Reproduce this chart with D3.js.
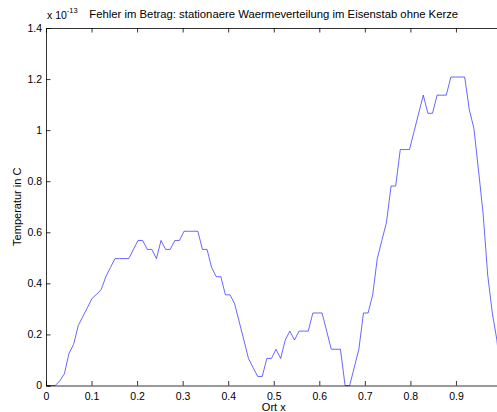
<!DOCTYPE html>
<html><head><meta charset="utf-8">
<script src="https://cdn.jsdelivr.net/npm/d3@7"></script>
<style>
html,body{margin:0;padding:0;background:#fff;overflow:hidden;}
svg{display:block;font-family:"Liberation Sans",Arial,Helvetica,sans-serif;}
</style></head>
<body>
<script>
// Fehler (absolute error) in units of 1e-13, sampled at 100 equally spaced points on [0,1]
const errorValues = [
  0, 0, 0, 0.018, 0.046, 0.126, 0.161, 0.234, 0.27, 0.305,
  0.341, 0.357, 0.376, 0.426, 0.462, 0.497, 0.497, 0.497, 0.497, 0.533,
  0.568, 0.568, 0.533, 0.533, 0.497, 0.568, 0.533, 0.533, 0.568, 0.568,
  0.604, 0.604, 0.604, 0.604, 0.533, 0.533, 0.462, 0.426, 0.426, 0.355,
  0.355, 0.32, 0.249, 0.178, 0.106, 0.071, 0.0355, 0.0355, 0.106, 0.106,
  0.142, 0.106, 0.178, 0.213, 0.178, 0.213, 0.213, 0.213, 0.284, 0.284,
  0.284, 0.213, 0.142, 0.142, 0.142, 0, 0, 0.071, 0.142, 0.284,
  0.284, 0.355, 0.497, 0.568, 0.639, 0.781, 0.781, 0.924, 0.924, 0.924,
  0.995, 1.066, 1.137, 1.066, 1.066, 1.137, 1.137, 1.137, 1.208, 1.208,
  1.208, 1.208, 1.08, 1.007, 0.843, 0.674, 0.433, 0.284, 0.178, 0
];
const xTicks = [0, 0.1, 0.2, 0.3, 0.4, 0.5, 0.6, 0.7, 0.8, 0.9, 1];
const xTickLabels = ["0", "0.1", "0.2", "0.3", "0.4", "0.5", "0.6", "0.7", "0.8", "0.9", ""];
const yTicks = [0, 0.2, 0.4, 0.6, 0.8, 1, 1.2, 1.4];
const yTickLabels = ["0", "0.2", "0.4", "0.6", "0.8", "1", "1.2", "1.4"];
const titleText = "Fehler im Betrag: stationaere Waermeverteilung im Eisenstab ohne Kerze";
const xLabelText = "Ort x";
const yLabelText = "Temperatur in C";

const W = 497, H = 412;
const L = 46, R = 501.5, T = 28, B = 385.5;
const svg = d3.select("body").append("svg").attr("width", W).attr("height", H);

const x = d3.scaleLinear().domain([0, 1]).range([L, R]);
const y = d3.scaleLinear().domain([0, 1.4]).range([B, T]);
const data = errorValues.map((v, i) => [i / (errorValues.length - 1), v]);

const axisColor = "#000";
const tl = 4.5;

svg.append("clipPath").attr("id", "clip").append("rect")
  .attr("x", L).attr("y", T - 1).attr("width", R - L).attr("height", B - T + 2);
svg.append("path").datum(data)
  .attr("clip-path", "url(#clip)")
  .attr("fill", "none").attr("stroke", "#0000ff").attr("stroke-width", 0.6)
  .attr("d", d3.line().x(d => x(d[0])).y(d => y(d[1])));

const gB = svg.append("g").attr("transform", `translate(0,${B})`)
  .call(d3.axisBottom(x).tickValues(xTicks).tickFormat((d, i) => xTickLabels[i]).tickSize(-tl).tickPadding(7));
const gT = svg.append("g").attr("transform", `translate(0,${T})`)
  .call(d3.axisTop(x).tickValues(xTicks).tickFormat("").tickSize(-tl));
const gL = svg.append("g").attr("transform", `translate(${L},0)`)
  .call(d3.axisLeft(y).tickValues(yTicks).tickFormat((d, i) => yTickLabels[i]).tickSize(-tl).tickPadding(4));
const gR = svg.append("g").attr("transform", `translate(${R},0)`)
  .call(d3.axisRight(y).tickValues(yTicks).tickFormat("").tickSize(-tl));
[gB, gT, gL, gR].forEach(g => {
  g.select(".domain").attr("stroke", axisColor).attr("stroke-width", 0.8);
  g.selectAll(".tick line").attr("stroke", axisColor).attr("stroke-width", 0.8);
  g.selectAll(".tick text").attr("fill", "#000").attr("font-size", 10.5)
    .attr("font-family", "Liberation Sans, Arial, sans-serif");
});
gB.selectAll(".tick text").attr("dy", "0.71em");

const ex = svg.append("text").attr("x", L + 1).attr("y", 19)
  .attr("font-size", 10.5).attr("fill", "#000");
ex.append("tspan").text("x 10");
ex.append("tspan").attr("dy", -6).attr("font-size", 7.5).text("-13");

svg.append("text").attr("x", (L + R) / 2).attr("y", 18).attr("text-anchor", "middle")
  .attr("font-size", 11.3).attr("fill", "#000").text(titleText);
svg.append("text").attr("x", (L + R) / 2).attr("y", 411).attr("text-anchor", "middle")
  .attr("font-size", 11).attr("fill", "#000").text(xLabelText);
svg.append("text").attr("transform", `translate(21,${(T + B) / 2}) rotate(-90)`)
  .attr("text-anchor", "middle").attr("font-size", 11).attr("fill", "#000").text(yLabelText);
</script>
</body></html>
